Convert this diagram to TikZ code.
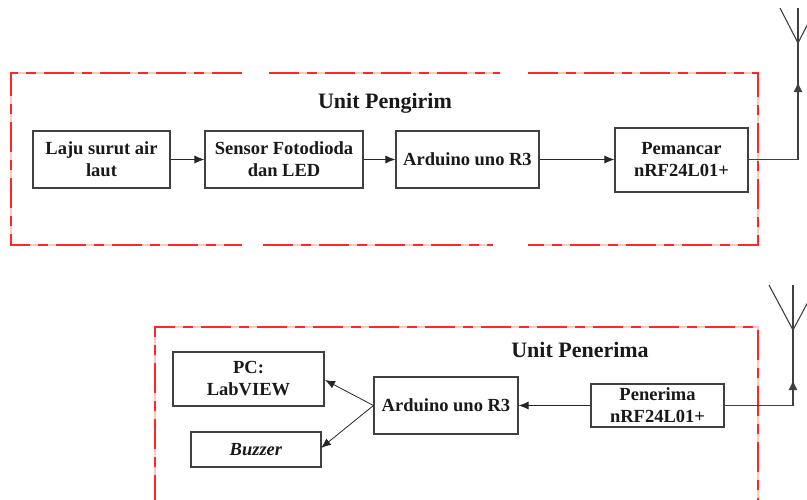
\documentclass[tikz,border=0pt]{standalone}
\usepackage{fontspec}
\setmainfont{Liberation Serif}
\usetikzlibrary{arrows.meta}
\begin{document}
\begin{tikzpicture}[x=1pt,y=-1pt,
  blk/.style={draw=black!75, line width=1.1pt, fill=white, text=black!90,
    font=\bfseries\fontsize{18.5}{22}\selectfont, align=center, inner sep=0pt},
  conn/.style={draw=black!85, line width=0.8pt, -{Latex[length=10pt,width=8pt]}},
  wire/.style={draw=black!75, line width=1.1pt},
  tip/.style={draw=black!75, line width=1.1pt, -{Latex[length=10pt,width=9pt]}},
  underlay/.style={draw=red!22, line width=1.2pt},
  frame/.style={draw=red!85, line width=1.2pt, dash pattern=on 30pt off 8pt on 10pt off 8pt},
  unitlbl/.style={font=\bfseries\fontsize{22}{26}\selectfont, text=black!90}]
\useasboundingbox (0,0) rectangle (807,499);

% transmitter unit frame (with two breaks on top and bottom)
\foreach \s in {underlay, frame} {
  \draw[\s] (242,73) -- (11,73) -- (11,245) -- (242,245);
  \draw[\s] (269,73) -- (500,73);
  \draw[\s] (263,245) -- (493,245);
  \draw[\s] (528,73) -- (758,73) -- (758,245) -- (528,245);
}
% receiver unit frame
\foreach \s in {underlay, frame} {
  \draw[\s] (155,505) -- (155,327) -- (758,327) -- (758,505);
}

\node[unitlbl] (u1) at (385,103) {Unit Pengirim};
\node[unitlbl] (u2) at (580,350) {Unit Penerima};

% transmitter chain
\node[blk, minimum width=137pt, minimum height=57pt] (laju) at (101.5,159.5) {Laju surut air\\laut};
\node[blk, minimum width=158pt, minimum height=57pt] (sensor) at (284,159.5) {Sensor Fotodioda\\dan LED};
\node[blk, minimum width=143pt, minimum height=57pt] (ard1) at (467.5,159.5) {Arduino uno R3};
\node[blk, minimum width=133pt, minimum height=64pt] (tx) at (681.5,160) {Pemancar\\nRF24L01+};

\draw[conn] (laju) -- (sensor);
\draw[conn] (sensor) -- (ard1);
\draw[conn] (ard1) -- (tx.west |- ard1.east);

% transmitter antenna
\coordinate (c1) at (798,159.5);
\coordinate (m1) at (798,82);
\coordinate (b1) at (798,43);
\coordinate (t1) at (798,8);
\coordinate (l1) at (780,8);
\coordinate (r1) at (816,8);
\draw[wire] (tx.east |- c1) -- (c1) -- (m1);
\draw[tip] (c1) -- (m1);
\draw[wire] (m1) -- (t1);
\draw[wire] (l1) -- (b1) -- (r1);

% receiver chain
\node[blk, minimum width=151pt, minimum height=54pt] (pc) at (248.5,379) {PC:\\LabVIEW};
\node[blk, minimum width=130pt, minimum height=35pt] (bz) at (256,449.5) {\textit{Buzzer}};
\node[blk, minimum width=144pt, minimum height=57pt] (ard2) at (446,405.5) {Arduino uno R3};
\node[blk, minimum width=133pt, minimum height=43pt] (rx) at (657.5,405.5) {Penerima\\nRF24L01+};

\coordinate (pcin) at (325,380);
\coordinate (bzin) at (321,448);
\draw[conn] (rx.west) -- (ard2.east);
\draw[conn] (ard2.west) -- (pcin);
\draw[conn] (ard2.west) -- (bzin);

% receiver antenna
\coordinate (c2) at (793,405.5);
\coordinate (m2) at (793,380);
\coordinate (b2) at (793,330);
\coordinate (t2) at (793,285);
\coordinate (l2) at (769,285);
\coordinate (r2) at (817,285);
\draw[wire] (rx.east) -- (c2) -- (m2);
\draw[tip] (c2) -- (m2);
\draw[wire] (m2) -- (t2);
\draw[wire] (l2) -- (b2) -- (r2);
\end{tikzpicture}
\end{document}
